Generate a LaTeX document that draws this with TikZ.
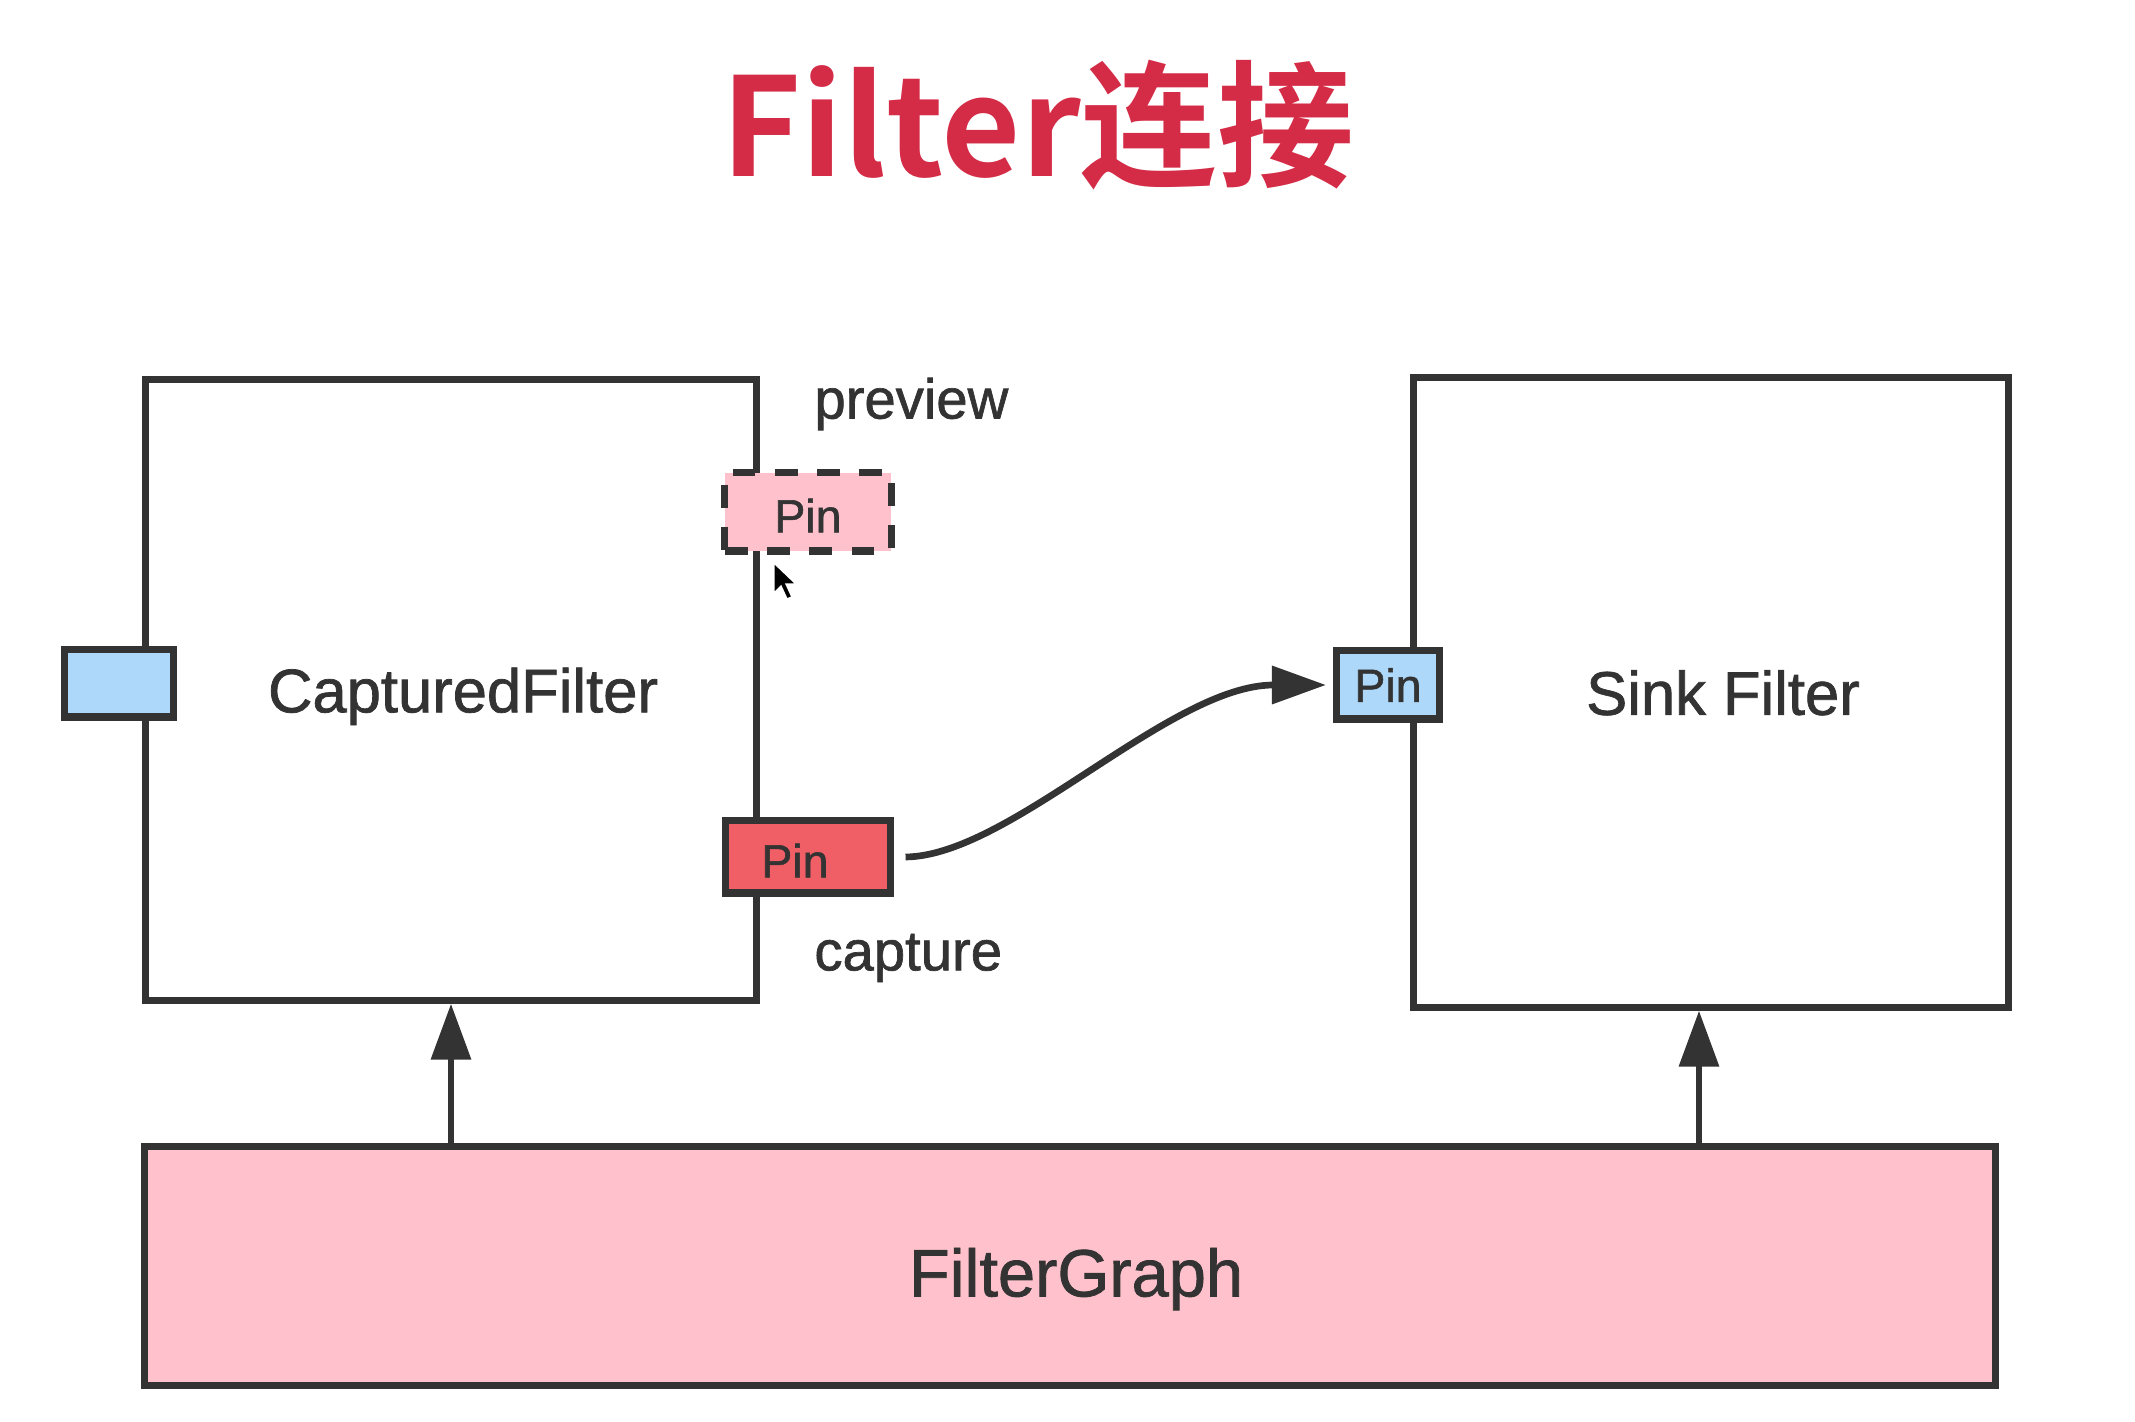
\documentclass[tikz,border=0pt]{standalone}
\usepackage{fontspec}
\setmainfont{Liberation Sans}
\newfontfamily\labelfont[FakeBold=1.2]{Liberation Sans}
\newfontfamily\cjk[BoldFont={Noto Sans CJK SC Bold}]{Noto Sans CJK SC}
\usetikzlibrary{positioning,arrows.meta}
\definecolor{titlered}{HTML}{D42B46}
\definecolor{linegray}{HTML}{333333}
\definecolor{pinblue}{HTML}{ADD8FA}
\definecolor{pinpink}{HTML}{FFC2CC}
\definecolor{pinred}{HTML}{F15F66}

\begin{document}
\begin{tikzpicture}[x=0.01cm, y=-0.01cm,
  box/.style={draw=linegray, line width=2pt, inner sep=0pt, text=linegray, text depth=0pt,
    font=\labelfont\fontsize{17.5}{20}\selectfont},
  pin/.style={box, font=\labelfont\fontsize{13.2}{15}\selectfont},
  side/.style={text=linegray, font=\labelfont\fontsize{16}{19}\selectfont, anchor=west},
  arr/.style={draw=linegray, line width=1.9pt, -{Triangle[length=5.6mm,width=3.9mm]}}]
\useasboundingbox (0,0) rectangle (2135,1422);
% title
\node[font=\cjk\bfseries\fontsize{38.9}{43}\selectfont, text=titlered] (title) at (1038,125) {Filter连接};
% filters
\node[box, minimum width=6.10cm, minimum height=6.20cm] (capt) at (451,690) {\hspace{0.24cm}CapturedFilter};
\node[box, minimum width=5.95cm, minimum height=6.29cm] (sink) at (1711,692.5) {\hspace{0.24cm}Sink Filter};
\node[box, fill=pinpink, minimum width=18.49cm, minimum height=2.39cm,
  font=\labelfont\fontsize{19}{22}\selectfont] (graph) at (1070,1266) {\hspace{0.12cm}\raisebox{-3.5pt}{FilterGraph}};
% pins
\node[pin, fill=pinblue, minimum width=1.08cm, minimum height=0.67cm] (inpin) at (119,683.5) {};
\node[pin, fill=pinpink, dash pattern=on 6.5pt off 5.5pt, minimum width=1.66cm, minimum height=0.78cm] (prevpin) at (808,512) {\raisebox{-2pt}{Pin}};
\node[pin, fill=pinred, minimum width=1.64cm, minimum height=0.72cm] (cappin) at (808,857) {\raisebox{-2pt}{Pin}\kern0.26cm};
\node[pin, fill=pinblue, minimum width=1.03cm, minimum height=0.68cm] (sinkpin) at (1388,685) {Pin};
% pin labels
\node[side] (prevlbl) at (802,404) {preview};
\node[side] (caplbl) at (802,958) {capture};
% connections
\draw[arr, -{Triangle[length=5.4mm,width=3.7mm]}] ([xshift=0.12cm]cappin.east)
  .. controls (1010,856) and (1170,685) .. ([xshift=-0.07cm]sinkpin.west);
\draw[arr] (capt.south |- graph.north) -- (capt.south);
\draw[arr] ([xshift=-0.12cm]sink.south |- graph.north) -- ([xshift=-0.12cm]sink.south);
% mouse pointer
\fill[black, draw=white, line width=0.4pt] (774,563) -- ++(0,30) -- ++(7,-7)
  -- ++(6,13) -- ++(5,-2) -- ++(-6,-13) -- ++(10,0) -- cycle;
\end{tikzpicture}
\end{document}
